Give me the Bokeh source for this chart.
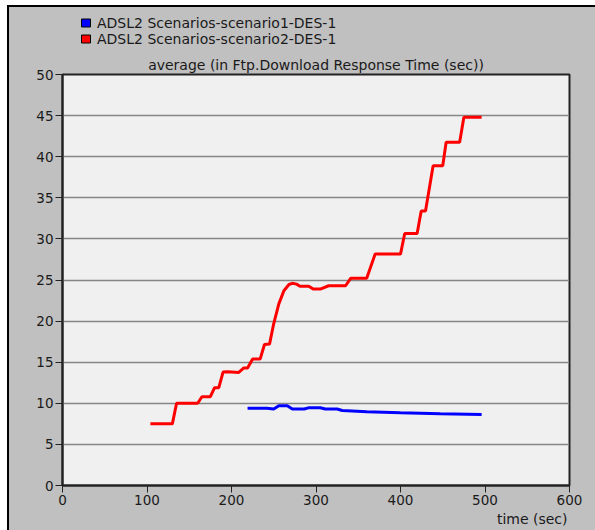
from bokeh.plotting import figure
from bokeh.layouts import column
from bokeh.models import Range1d, SingleIntervalTicker, Title, ColumnDataSource
from bokeh.core.properties import value
from bokeh.embed import file_html
from bokeh.resources import INLINE

# Average FTP download response time (sec) against simulation time (sec)
time_s1 = [219, 242, 250, 256, 266, 272, 286, 291, 305, 311, 325, 331, 360, 400, 447, 496]
resp_s1 = [9.4, 9.4, 9.3, 9.7, 9.7, 9.3, 9.3, 9.45, 9.45, 9.3, 9.3, 9.12, 8.96, 8.84, 8.72, 8.64]

time_s2 = [104, 130, 135, 160, 165, 175, 180, 185, 190, 195.6, 208.6, 214.6, 219, 225, 234,
           239, 245, 250, 256, 262, 268, 272, 277, 281, 291.5, 296.6, 305, 315, 335, 341,
           360, 370, 400, 405, 419.7, 424.5, 429.6, 438.6, 450, 454, 470, 475, 496]
resp_s2 = [7.5, 7.5, 10.0, 10.0, 10.8, 10.8, 11.9, 11.9, 13.8, 13.85, 13.75, 14.3, 14.3, 15.4, 15.4,
           17.15, 17.2, 19.7, 22.1, 23.7, 24.45, 24.6, 24.5, 24.25, 24.25, 23.9, 23.9, 24.3, 24.3, 25.2,
           25.2, 28.15, 28.15, 30.65, 30.65, 33.4, 33.4, 38.9, 38.9, 41.75, 41.75, 44.8, 44.8]

series_names = ["ADSL2 Scenarios-scenario1-DES-1", "ADSL2 Scenarios-scenario2-DES-1"]
series_colors = ["#0000ff", "#ff0000"]
chart_title = "average (in Ftp.Download Response Time (sec))"
x_label = "time (sec)"

FONT = "DejaVu Sans"
TEXT = "#1a1a1a"
PANEL = "#c0c0c0"
W = 586
BORDER_L, BORDER_R = 53, 26
FRAME_W = W - BORDER_L - BORDER_R

# ---- legend strip (pixel-like coordinates, y grows downward) ----
LEG_H = 41
leg = figure(width=W, height=LEG_H, output_backend="svg", toolbar_location=None,
             x_range=Range1d(0, FRAME_W), y_range=Range1d(LEG_H, 0),
             min_border_left=BORDER_L, min_border_right=BORDER_R,
             min_border_top=0, min_border_bottom=0,
             background_fill_color=PANEL, border_fill_color=PANEL,
             outline_line_color=None)
leg.axis.visible = False
leg.grid.visible = False

row_y = [15.5, 31.5]
leg_src = ColumnDataSource(dict(name=series_names, color=series_colors, y=row_y,
                                box_x=[23.5, 23.5], text_x=[34.5, 34.5]))
leg.rect(x="box_x", y="y", width=9, height=8, fill_color="color", line_color="#000000",
         line_width=1, source=leg_src)
leg.text(x="text_x", y="y", text="name", text_font=value(FONT), text_font_size="14px",
         text_color=TEXT, text_baseline="middle", text_align="left", source=leg_src)

# ---- main chart ----
p = figure(width=W, height=530 - 7 - LEG_H, output_backend="svg", toolbar_location=None,
           x_range=Range1d(0, 600), y_range=Range1d(0, 50),
           min_border_left=BORDER_L, min_border_top=26, min_border_right=BORDER_R,
           min_border_bottom=45,
           background_fill_color="#f0f0f0", border_fill_color=PANEL,
           outline_line_color="#222222", outline_line_width=2)

p.xgrid.visible = False
p.ygrid.grid_line_color = "#858585"
p.ygrid.grid_line_width = 1.5
p.ygrid.ticker = SingleIntervalTicker(interval=5)

p.xaxis.ticker = SingleIntervalTicker(interval=100)
p.yaxis.ticker = SingleIntervalTicker(interval=5)
for ax in (p.xaxis, p.yaxis):
    ax.axis_line_color = "#222222"
    ax.axis_line_width = 2
    ax.major_tick_line_color = "#222222"
    ax.major_tick_in = 0
    ax.major_tick_out = 7
    ax.minor_tick_line_color = None
    ax.major_label_text_font = FONT
    ax.major_label_text_font_size = "13.5px"
    ax.major_label_text_color = TEXT
    ax.major_label_standoff = 2

p.line(time_s1, resp_s1, line_color=series_colors[0], line_width=3)
p.line(time_s2, resp_s2, line_color=series_colors[1], line_width=3)

p.add_layout(Title(text=chart_title, align="center", text_font=FONT, text_font_size="14px",
                   text_font_style="normal", text_color=TEXT, standoff=3), "above")
p.add_layout(Title(text=x_label, align="right", text_font=FONT, text_font_size="14px",
                   text_font_style="normal", text_color=TEXT, standoff=2, offset=2), "below")

layout = column(leg, p, spacing=0, margin=(5, 0, 0, 7),
                styles={"border-top": "2px solid #000000", "border-left": "2px solid #000000",
                        "background-color": PANEL})

open("out.html", "w").write(file_html(layout, INLINE))
